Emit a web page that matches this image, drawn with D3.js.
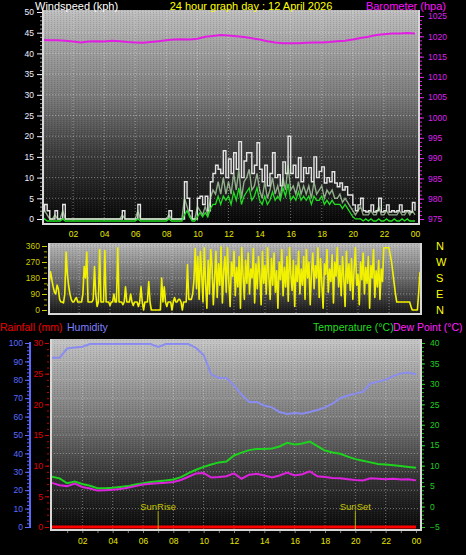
<!DOCTYPE html>
<html><head><meta charset="utf-8">
<script src="https://cdn.jsdelivr.net/npm/d3@7"></script>
<style>
body{margin:0;background:#000;}
svg{display:block;font-family:"Liberation Sans",Arial,sans-serif;}
</style>
</head><body>
<svg id="chart" width="466" height="555"></svg>
<script>
// ---------------- DATA ----------------
const xTickHours = [2,4,6,8,10,12,14,16,18,20,22,24];
const xTickLabels = ["02","04","06","08","10","12","14","16","18","20","22","00"];
const windTicks = [0,5,10,15,20,25,30,35,40,45,50];
const baroTicks = [975,980,985,990,995,1000,1005,1010,1015,1020,1025];
const dirTicks = [0,90,180,270,360];
const dirLetters = ["N","E","S","W","N"];
const humTicks = [0,10,20,30,40,50,60,70,80,90,100];
const rainTicks = [0,5,10,15,20,25,30];
const tempTicks = [-5,0,5,10,15,20,25,30,35,40];
const sunTimes = [7.0, 20.0];
const sunLabels = ["SunRise","SunSet"];

// wind speeds (kph), 10-minute samples, 00:00 .. 24:00
const windGust = [2,3.5,2,0,0,2,0,0,3.5,0, 0,0,0,0,0,0,0,0,0,0, 0,0,0,0,0,0,0,0,0,0,
  0,2,0,0,0,0,0,3.5,0,0, 0,0,0,0,0,0,0,0,0,2, 0,0,0,0,0,9,5,2,0,0,
  5,5.5,3.5,5.5,2,9,11,13,12,11, 16.5,10,14.5,11,16,12,18.7,10,14,16,
  16,11,13,18.4,12,9,13,8,11,16, 10,10.7,8,13.8,11,20,11,13,10,14.8,
  9,12.4,11,12.4,9,15,10,11.5,12.6,8.7, 10,9,11.4,8.7,7.8,8.7,7,7.8,5.8,5.8,
  3.4,2,3.4,5,2,1.7,2,3.4,1.7,2, 5,1.7,2,3.4,1.7,2,1.7,2,3.4,1.7, 2,2,1.7,4,2];
const windSpeed = [1,2,1,0,0,1,0,0,2,0, 0,0,0,0,0,0,0,0,0,0, 0,0,0,0,0,0,0,0,0,0,
  0,1,0,0,0,0,0,2,0,0, 0,0,0,0,0,0,0,0,0,1, 0,0,0,0,0,5,3,1,0,0,
  3,2,1,3,1,5,7,6,9,6, 10,6,9,6,11,7,12,5,9,10,
  12,7,8,11,7,5,9,5,7,10, 6,8,5,10,7,13,7,8,6,9,
  6,8,6,8,5,9,6,7,8,5, 7,6,7,5,5,6,4,5,4,3,
  2,1,2,3,1,1,1,2,1,1, 3,1,1,2,1,1,1,1,2,1, 1,2,1,2,1];
const windAvg = [0,0.5,0,0,0,0,0,0,0.5,0, 0,0,0,0,0,0,0,0,0,0, 0,0,0,0,0,0,0,0,0,0,
  0,0,0,0,0,0,0,0.5,0,0, 0,0,0,0,0,0,0,0,0,0.5, 0,0,0,0,0,1.5,2.5,1,0,0,
  1,2,1,2,1,3,4,4,6,4, 6,5,6,4,7,5,8,4,6,7,
  8,5,6,8,5,4,6,4,5,7, 5,6,5,8,6,9,5,6,5,7,
  5,6,5,6,4,6,5,5,6,4, 5,4,5,4,4,4,3,4,3,2,
  1,0.5,0.5,0.5,0,0.5,0,0.5,0,0, 0.5,0,0,0.5,0,0,0.5,0,0,0.5, 0,0.5,0,0,0];
// wind direction (degrees), 5-minute samples, 00:00 .. 24:00
const windDir = [
  135,160,215,170,130,100,90,140,120,60, 45,45,40,90,326,200,135,90,60,45,
  45,60,70,45,45,45,45,90,245,180, 326,45,45,45,45,60,245,90,20,45,
  340,45,45,45,335,45,45,45,25,45, 45,90,45,45,350,45,45,45,30,45,
  130,45,45,45,90,45,25,45,45,45, 20,45,130,45,0,45,45,45,160,45,
  0,0,0,0,0,0,0,0,180,45, 130,45,20,45,45,45,0,45,70,45,
  45,60,60,45,0,45,45,45,255,60, 60,60,90,170,345,
  120,300,60,330,200,45,350,150,10,280, 90,340,250,30,180,330,70,260,140,355,
  40,220,300,100,350,160,20,270,190,330, 80,240,130,300,10,350,200,60,280,150,
  320,90,230,180,345,40,260,120,300,200, 30,330,150,250,90,350,190,60,290,140,
  320,100,220,10,270,170,340,80,240,130, 300,50,350,200,110,280,20,250,160,330,
  90,230,140,300,60,340,180,270,30,210, 320,120,250,180,350,70,290,150,10,260,
  200,340,100,230,160,310,40,270,190,350, 130,250,80,300,180,20,330,150,260,110,
  290,60,230,350,140,200,30,270,170,320, 90,240,150,300,10,250,180,340,70,220,
  130,280,60,230,160,
  350,350,350,350,350,310,270,210,150,90, 45,45,45,45,45,45,45,45,45,45,
  45,20,0,0,0,0,0,100,215];

// 30-minute samples, 00:00 .. 24:00
const barometer = [1019.1,1019.0,1019.0,1018.9,1018.7,1018.5,1018.7,1018.8,1018.7,1018.9,
  1018.8,1018.6,1018.5,1018.4,1018.6,1018.8,1019.0,1019.2,1019.3,1019.2,
  1019.4,1019.9,1020.1,1020.3,1020.2,1020.0,1019.8,1019.5,1019.2,1018.8,
  1018.5,1018.3,1018.3,1018.3,1018.4,1018.5,1018.5,1018.6,1018.8,1018.9,
  1019.2,1019.6,1019.9,1020.3,1020.5,1020.7,1020.7,1020.8,1020.7];
const humidity = [92,92,97,97.5,98,99.4,99.4,99.4,99.4,99.4,
  99.4,99.4,99.4,99.4,97.8,99.4,99.4,99.4,99.4,97.3,
  93.5,83,81,81,77,72,68,68,66,65,
  62.5,61.4,62,61.5,62.5,63.6,65,67,70,71.5,
  72.5,73.5,78,79,80,82,83.5,84,83];
const temperature = [7.3,6.9,5.7,6.1,5.5,5.1,4.5,4.5,4.6,4.8,
  5.0,5.4,5.7,6.0,6.2,6.4,6.6,7.2,8.2,9.0,
  9.7,10.3,10.8,11.0,12.5,13.2,13.8,14.1,14.1,14.2,
  14.7,15.6,15.2,15.4,15.9,14.8,13.7,13.2,12.9,12.2,
  11.6,11.2,10.8,10.4,10.3,10.1,9.9,9.7,9.5];
const dewPoint = [5.8,5.2,5.0,5.6,4.8,4.4,3.9,4.0,4.1,4.3,
  4.6,5.0,5.4,5.6,5.7,5.8,6.0,6.5,7.3,8.1,
  8.2,7.1,7.2,7.4,8.1,6.8,7.8,8.0,7.6,7.1,
  7.6,8.3,7.6,7.9,8.6,7.4,7.2,7.0,6.9,6.7,
  6.5,6.4,6.9,6.8,6.7,6.8,6.6,6.7,6.4];
// hourly rainfall (mm), 00 .. 24
const rainfall = [0,0,0,0,0,0,0,0,0,0,0,0,0,0,0,0,0,0,0,0,0,0,0,0,0];

// ---------------- DRAWING ----------------
const svg = d3.select("#chart");
const defs = svg.append("defs");
function grad(id, stops){
  const g = defs.append("linearGradient").attr("id",id).attr("x1",0).attr("y1",0).attr("x2",0).attr("y2",1);
  stops.forEach(s=>g.append("stop").attr("offset",s[0]).attr("stop-color",s[1]));
}
grad("gTop",[[0,"#bebebe"],[0.4,"#7a7a7a"],[0.68,"#383838"],[1,"#050505"]]);
grad("gMid",[[0,"#b8b8b8"],[0.5,"#6a6a6a"],[1,"#121212"]]);
grad("gBot",[[0,"#c4c4c4"],[0.45,"#727272"],[0.72,"#343434"],[1,"#080808"]]);
const pat = defs.append("pattern").attr("id","dith").attr("width",3).attr("height",2).attr("patternUnits","userSpaceOnUse");
pat.append("rect").attr("x",0).attr("y",0).attr("width",1).attr("height",1).attr("fill","#000").attr("opacity",0.12);
pat.append("rect").attr("x",2).attr("y",1).attr("width",1).attr("height",1).attr("fill","#fff").attr("opacity",0.06);

const t10 = d3.range(windGust.length).map(i=>i/6);
const t5 = d3.range(windDir.length).map(i=>i/12);
const t30 = d3.range(barometer.length).map(i=>i/2);
const t60 = d3.range(rainfall.length);
const fmt = d3.format("d");

function panel(x0,y0,x1,y1,gid){
  svg.append("rect").attr("x",x0).attr("y",y0).attr("width",x1-x0).attr("height",y1-y0).attr("fill",`url(#${gid})`);
  svg.append("rect").attr("x",x0).attr("y",y0).attr("width",x1-x0).attr("height",y1-y0).attr("fill","url(#dith)");
}
function frame(x0,y0,x1,y1){
  svg.append("path").attr("d",`M${x0+1},${y0}V${y1-1}H${x1-1}V${y0}`)
    .attr("fill","none").attr("stroke","#d8d8d8").attr("stroke-width",2);
}
function grid(xs, ys, xScale, yScale, xr, yr){
  const g = svg.append("g").attr("stroke","#e8e8e8").attr("stroke-opacity",0.45).attr("stroke-dasharray","1,2");
  xs.forEach(h=>g.append("line").attr("x1",xScale(h)).attr("x2",xScale(h)).attr("y1",yr[0]).attr("y2",yr[1]));
  ys.forEach(v=>g.append("line").attr("x1",xr[0]).attr("x2",xr[1]).attr("y1",yScale(v)).attr("y2",yScale(v)));
}
function styleAxis(g, color, fs){
  g.select(".domain").remove();
  g.selectAll("line").attr("stroke",color);
  g.selectAll("text").attr("fill",color).attr("font-size",fs).attr("font-family","'Liberation Sans',Arial,sans-serif");
}
function txt(x,y,s,color,size,anchor){
  svg.append("text").attr("x",x).attr("y",y).text(s).attr("fill",color).attr("font-size",size)
    .attr("text-anchor",anchor||"start");
}

// ===== TOP PANEL: wind + barometer =====
const xT = d3.scaleLinear().domain([0,24]).range([42,415]);
const yW = d3.scaleLinear().domain([0,50]).range([219,12]);
const yB = d3.scaleLinear().domain([975,1025]).range([219,16]);
panel(42,10,419,224,"gTop");
grid(xTickHours.slice(0,11), windTicks.slice(1), xT, yW, [43,418], [10,223]);

const gustLine = d3.line().x((d,i)=>xT(t10[i])).y(d=>yW(d)).curve(d3.curveStepAfter);
svg.append("path").datum(windGust).attr("d",gustLine).attr("fill","none").attr("stroke","#e4e4e4").attr("stroke-width",1.4);
const spdLine = d3.line().x((d,i)=>xT(t10[i])).y(d=>yW(d));
svg.append("path").datum(windSpeed).attr("d",spdLine).attr("fill","none").attr("stroke","#c0e8b8").attr("stroke-opacity",0.7).attr("stroke-width",1.4);
const avgLine = d3.line().x((d,i)=>xT(t10[i])).y(d=>yW(d)+2);
svg.append("path").datum(windAvg).attr("d",avgLine).attr("fill","none").attr("stroke","#22dd22").attr("stroke-width",1.3);
const baroLine = d3.line().x((d,i)=>xT(t30[i])).y(d=>yB(d));
svg.append("path").datum(barometer).attr("d",baroLine).attr("fill","none").attr("stroke","#e21ee2").attr("stroke-width",2);
frame(42,10,420,225);

let g;
g = svg.append("g").attr("transform","translate(42,0)").call(d3.axisLeft(yW).tickValues(d3.range(0,51,1)).tickSize(2).tickFormat(""));
styleAxis(g,"#9a9a9a",8);
g = svg.append("g").attr("transform","translate(42,0)").call(d3.axisLeft(yW).tickValues(windTicks).tickSize(5).tickPadding(3).tickFormat(fmt));
styleAxis(g,"#eeeeff",8.5);
g = svg.append("g").attr("transform","translate(420,0)").call(d3.axisRight(yB).tickValues(d3.range(975,1026,1)).tickSize(2).tickFormat(""));
styleAxis(g,"#dd22dd",8);
g = svg.append("g").attr("transform","translate(420,0)").call(d3.axisRight(yB).tickValues(baroTicks).tickSize(4).tickPadding(4).tickFormat(fmt));
styleAxis(g,"#dd22ee",8.5);
g = svg.append("g").attr("transform","translate(0,224)").call(d3.axisBottom(xT).tickValues(xTickHours).tickSize(0).tickPadding(7).tickFormat((d,i)=>xTickLabels[i]));
styleAxis(g,"#e6e600",8.5);

txt(35,9.5,"Windspeed (kph)","#ffffff",11);
txt(251,9.5,"24 hour graph day : 12 April 2026","#ffff00",11,"middle");
txt(446,9.5,"Barometer (hpa)","#ff10ff",11,"end");

// ===== MIDDLE PANEL: wind direction =====
const xM = d3.scaleLinear().domain([0,24]).range([48,420]);
const yD = d3.scaleLinear().domain([0,360]).range([310,246]);
panel(48,243,422,315,"gMid");
grid(xTickHours.slice(0,11), [90,180,270,360], xM, yD, [49,421], [243,314]);
const dirLine = d3.line().x((d,i)=>xM(t5[i])).y(d=>yD(d));
svg.append("path").datum(windDir).attr("d",dirLine).attr("fill","none").attr("stroke","#f2f200").attr("stroke-width",1.6).attr("stroke-linejoin","round");
frame(48,243,422,315);
g = svg.append("g").attr("transform","translate(47,0)").call(d3.axisLeft(yD).tickValues(d3.range(0,361,30)).tickSize(3).tickFormat(""));
styleAxis(g,"#a8a800",8);
g = svg.append("g").attr("transform","translate(47,0)").call(d3.axisLeft(yD).tickValues(dirTicks).tickSize(5).tickPadding(2).tickFormat(fmt));
styleAxis(g,"#cccc00",8.5);
g = svg.append("g").attr("transform","translate(421,0)").call(d3.axisRight(yD).tickValues(dirTicks).tickSize(0).tickPadding(15).tickFormat((d,i)=>dirLetters[i]));
styleAxis(g,"#ffff00",11);

// ===== BOTTOM PANEL: humidity, rain, temperature, dew point =====
const xB = d3.scaleLinear().domain([0,24]).range([52,416]);
const yH = d3.scaleLinear().domain([0,100]).range([527,343]);
const yR = d3.scaleLinear().domain([0,30]).range([527,343]);
const yTm = d3.scaleLinear().domain([-5,40]).range([527,343]);
panel(50,339,421,530,"gBot");
grid(xTickHours.slice(0,11), humTicks.slice(1), xB, yH, [51,420], [339,529]);

const humLine = d3.line().x((d,i)=>xB(t30[i])).y(d=>yH(d));
svg.append("path").datum(humidity).attr("d",humLine).attr("fill","none").attr("stroke","#8a8cf0").attr("stroke-width",2);
const tLine = d3.line().x((d,i)=>xB(t30[i])).y(d=>yTm(d));
svg.append("path").datum(temperature).attr("d",tLine).attr("fill","none").attr("stroke","#1ed21e").attr("stroke-width",2);
svg.append("path").datum(dewPoint).attr("d",tLine).attr("fill","none").attr("stroke","#dd22dd").attr("stroke-width",2);
const rLine = d3.line().x((d,i)=>xB(t60[i])).y(d=>yR(d));
svg.append("path").datum(rainfall).attr("d",rLine).attr("fill","none").attr("stroke","#ff0000").attr("stroke-width",3);

sunTimes.forEach((h,i)=>{
  svg.append("line").attr("x1",xB(h)).attr("x2",xB(h)).attr("y1",511).attr("y2",530).attr("stroke","#b0b000").attr("stroke-width",1);
  txt(xB(h),510,sunLabels[i],"#c4c400",9.5,"middle");
});
frame(50,339,422,531);

g = svg.append("g").attr("transform","translate(29,0)").call(d3.axisLeft(yH).tickValues(d3.range(0,101,2)).tickSize(2).tickFormat(""));
styleAxis(g,"#5a6aff",8);
g = svg.append("g").attr("transform","translate(29,0)").call(d3.axisLeft(yH).tickValues(humTicks).tickSize(4).tickPadding(2).tickFormat(fmt));
styleAxis(g,"#5a6cff",8.5);
svg.append("line").attr("x1",30).attr("x2",30).attr("y1",342).attr("y2",528).attr("stroke","#5a6aff").attr("stroke-width",2);
g = svg.append("g").attr("transform","translate(49,0)").call(d3.axisLeft(yR).tickValues(d3.range(0,31,1)).tickSize(2).tickFormat(""));
styleAxis(g,"#cc0000",8);
g = svg.append("g").attr("transform","translate(49,0)").call(d3.axisLeft(yR).tickValues(rainTicks).tickSize(4).tickPadding(2).tickFormat(fmt));
styleAxis(g,"#e00000",8.5);
g = svg.append("g").attr("transform","translate(422,0)").call(d3.axisRight(yTm).tickValues(d3.range(-5,41,1)).tickSize(2).tickFormat(""));
styleAxis(g,"#20b020",8);
g = svg.append("g").attr("transform","translate(422,0)").call(d3.axisRight(yTm).tickValues(tempTicks).tickSize(3).tickPadding(5).tickFormat(fmt));
styleAxis(g,"#22cc22",8.5);
g = svg.append("g").attr("transform","translate(0,531)").call(d3.axisBottom(xB).tickValues(d3.range(1,25,1)).tickSize(2).tickFormat(""));
styleAxis(g,"#808080",8);
g = svg.append("g").attr("transform","translate(0,530)").call(d3.axisBottom(xB).tickValues(xTickHours).tickSize(0).tickPadding(8).tickFormat((d,i)=>xTickLabels[i]));
styleAxis(g,"#e6e600",8.5);

txt(0,331,"Rainfall (mm)","#ee0000",10.5);
txt(67,331,"Humidity","#8080ff",10.5);
txt(313,331,"Temperature (°C)","#22dd22",10.5);
txt(393,331,"Dew Point (°C)","#ff22ff",10.5);
</script>
</body></html>
